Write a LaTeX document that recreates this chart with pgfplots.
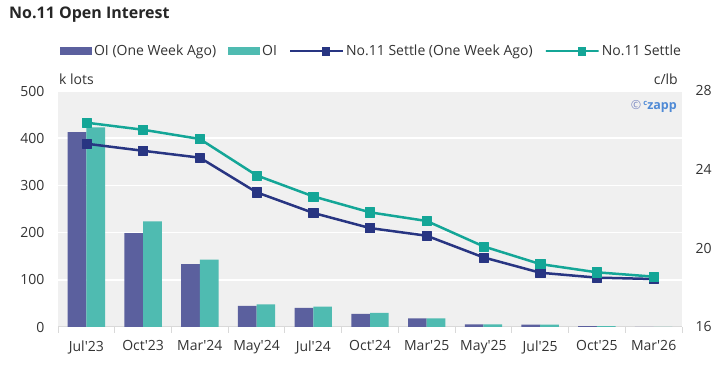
\documentclass[border=0pt]{standalone}
\usepackage{pgfplots}
\pgfplotsset{compat=1.18}
\usepackage{fontspec}
\setmainfont{Open Sans}
\definecolor{navybar}{HTML}{5B609E}
\definecolor{tealbar}{HTML}{4FBBB1}
\definecolor{navyline}{HTML}{283582}
\definecolor{tealline}{HTML}{14A697}
\definecolor{bgc}{HTML}{F0F0F0}
\definecolor{axc}{HTML}{D9D9D9}
\definecolor{labc}{HTML}{333333}
\definecolor{titlec}{HTML}{262626}
\definecolor{wmc}{HTML}{4F8AD6}
\definecolor{wmc2}{HTML}{7F8CC4}
\newcommand{\fs}{\fontsize{14}{16}\selectfont}
\newcommand{\lfs}{\fontsize{14}{16}\selectfont}
\newcommand{\q}{\textquotesingle}
\pgfplotsset{
  linelegend/.style={legend image code/.code={\draw[##1, mark repeat=2, mark phase=2] plot coordinates {(0pt,0pt) (17pt,0pt) (34pt,0pt)};}},
  navylegend/.style={legend image code/.code={\fill[navybar] (0pt,-4pt) rectangle (32pt,4pt);}},
  teallegend/.style={legend image code/.code={\fill[tealbar] (0pt,-4pt) rectangle (32pt,4pt);}},
}
\begin{document}
\begin{tikzpicture}
\path (0pt,0pt) rectangle (726pt,377pt);
\node[anchor=west, inner sep=0pt, font=\bfseries\fontsize{16}{19}\selectfont, text=titlec] at (9pt,362pt) {No.11 Open Interest};
\node[anchor=west, inner sep=0pt, font=\fs, text=labc] at (59pt,298pt) {k lots};
\node[anchor=east, inner sep=0pt, font=\fs, text=labc] at (678pt,298pt) {c/lb};
\begin{axis}[at={(58pt,50pt)}, anchor=south west, scale only axis, width=624pt, height=236pt,
  xmin=-0.5, xmax=10.5, ymin=0, ymax=500,
  ytick={0,100,...,500},
  xtick={0,...,10},
  xticklabels={Jul\q23,Oct\q23,Mar\q24,May\q24,Jul\q24,Oct\q24,Mar\q25,May\q25,Jul\q25,Oct\q25,Mar\q26},
  minor xtick={-0.5,0.5,...,10.5},
  axis background/.style={fill=bgc},
  ymajorgrids, grid style={white, line width=1.5pt},
  axis x line*=bottom, axis y line*=left,
  x axis line style={-, axc, line width=1pt},
  y axis line style={draw=none},
  major x tick style={draw=none},
  minor x tick style={axc, line width=1pt},
  minor tick length=6pt, major tick length=0pt, tick align=outside,
  ytick style={draw=none},
  /pgf/number format/assume math mode=true,
  tick label style={font=\fs, text=labc},
  yticklabel style={xshift=-10pt},
  xticklabel style={yshift=-10pt},
  ybar=0pt, bar width=18.7pt,
  legend columns=4,
  legend cell align=left,
  legend style={at={(0.003,1.169)}, anchor=west, draw=none, fill=none, font=\lfs, text=labc,
    inner sep=0pt, nodes={inner sep=2pt},
    /tikz/every even column/.append style={column sep=10pt}},
]
\addplot[fill=navybar, draw=none, navylegend] coordinates {
(0,413) (1,199) (2,133) (3,44.5) (4,40.5) (5,28) (6,18.5) (7,5.6) (8,5) (9,2) (10,0.5)};
\addlegendentry{OI (One Week Ago)}
\addplot[fill=tealbar, draw=none, teallegend] coordinates {
(0,423) (1,224) (2,142.5) (3,48) (4,43) (5,30) (6,18.5) (7,5.5) (8,4.8) (9,1.8) (10,0.4)};
\addlegendentry{OI}
\addlegendimage{navyline, line width=2.5pt, mark=square*, mark size=3.8pt, mark options={line width=0.5pt}, linelegend}
\addlegendentry{No.11 Settle (One Week Ago)}
\addlegendimage{tealline, line width=2.5pt, mark=square*, mark size=3.8pt, mark options={line width=0.5pt}, linelegend}
\addlegendentry{No.11 Settle}
\end{axis}
\begin{axis}[at={(58pt,50pt)}, anchor=south west, scale only axis, width=624pt, height=236pt,
  xmin=-0.5, xmax=10.5, ymin=16, ymax=28,
  ytick={16,20,24,28},
  axis x line=none, axis y line*=right,
  y axis line style={draw=none},
  ytick style={draw=none}, major tick length=0pt,
  /pgf/number format/assume math mode=true,
  tick label style={font=\fs, text=labc},
  yticklabel style={xshift=10pt},
]
\addplot[navyline, line width=2.5pt, mark=square*, mark size=4.6pt, mark options={line width=0.5pt}, line join=round] coordinates {
(0,25.32) (1,24.96) (2,24.61) (3,22.85) (4,21.80) (5,21.03) (6,20.64) (7,19.54) (8,18.76) (9,18.51) (10,18.44)};
\addplot[tealline, line width=2.5pt, mark=square*, mark size=4.6pt, mark options={line width=0.5pt}, line join=round] coordinates {
(0,26.39) (1,26.03) (2,25.56) (3,23.71) (4,22.64) (5,21.83) (6,21.39) (7,20.10) (8,19.20) (9,18.78) (10,18.56)};
\end{axis}
\node[anchor=east, inner sep=0pt, font=\bfseries\fontsize{12.5}{14}\selectfont] at (677pt,271pt) {\textcolor{wmc2}{\mdseries\textcopyright}\,\textcolor{wmc}{\raisebox{0.5ex}{\fontsize{7.5}{8}\selectfont c}zapp}};
\end{tikzpicture}
\end{document}
